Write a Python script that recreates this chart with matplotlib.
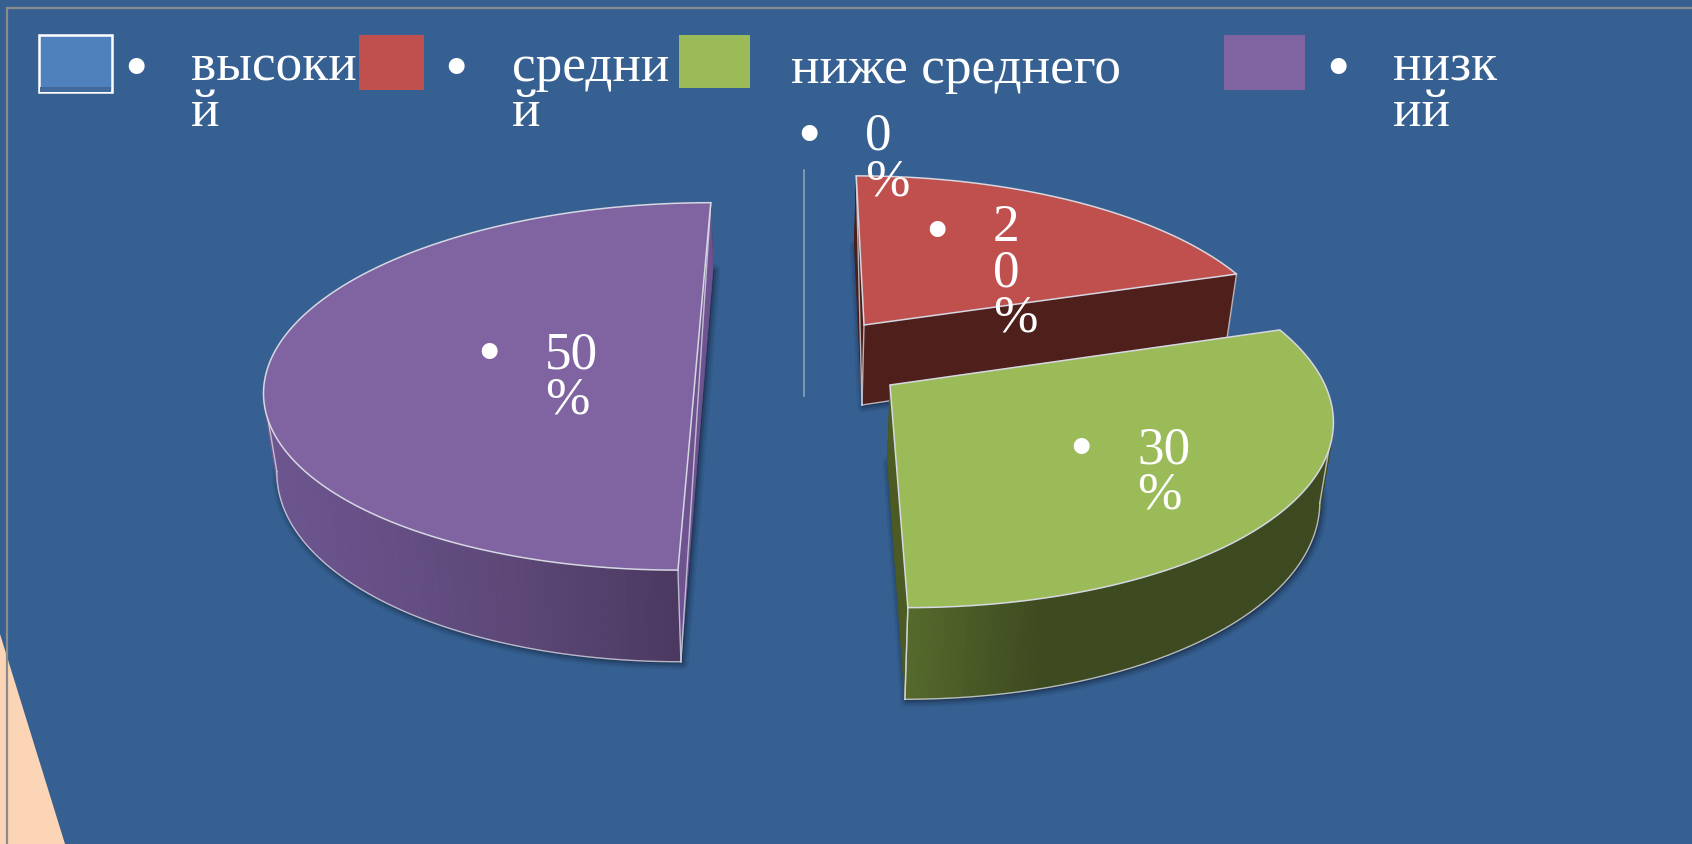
import numpy as np
import matplotlib
matplotlib.use("Agg")
import matplotlib.pyplot as plt
from matplotlib.patches import Polygon, Rectangle

categories = ["высокий", "средний", "ниже среднего", "низкий"]
values = [0, 20, 30, 50]
legend_labels = ["высоки\nй", "средни\nй", "ниже среднего", "низк\nий"]
value_labels = ["0\n%", "2\n0\n%", "30\n%", "50\n%"]

plt.rcParams["font.family"] = ["Liberation Serif", "DejaVu Serif"]

BG = "#366092"
TOPS = ["#4F81BD", "#C0504D", "#9BBB59", "#8064A2"]
EDGE = "#D5D8E2"
K = 0.16
FS = 38.3

# one projection per exploded slice: apex, radii, skew, wall depth, wall shift
GEOM = [
    None,
    dict(cx=864, cy=326, a=414, b=173, s=-9, d=80, shift=-2),
    dict(cx=890, cy=386, a=435, b=187, s=-15, d=77, shift=-2.5),
    dict(cx=697, cy=358, a=425, b=179, s=16, d=77, shift=2.5),
]
WALLS = [
    None,
    dict(start="#4A1D1A", end="#4F1F1C", stops=[0, 1], cols=["#4F1F1C", "#4F1F1C"], outer=False),
    dict(start="#3E4A20", end="#4C5A24", stops=[0, .32, 1], cols=["#566A2C", "#3E4A20", "#3E4A20"], outer=True),
    dict(start="#6F5390", end="#6F5390", stops=[0, .55, 1], cols=["#6E5690", "#5D4878", "#48365C"], outer=True),
]
FRONT_WALL = [None, "#4F1F1C", None, "#4C3A62"]


def project(g, theta, lower=False):
    u, v = np.cos(theta), np.sin(theta)
    f = 1 / (1 + K * v)
    X = (g["a"] * u + g["s"] * v) * f
    Y = -g["b"] * v * f
    if lower:
        return g["cx"] + g["shift"] + 0.975 * X, g["cy"] + Y + g["d"] * f
    return g["cx"] + X, g["cy"] + Y


def apex(g, lower=False):
    if lower:
        return g["cx"] + g["shift"], g["cy"] + g["d"]
    return g["cx"], g["cy"]


fig = plt.figure(figsize=(16.92, 8.45), dpi=100, facecolor=BG)
ax = fig.add_axes([0, 0, 1, 1])
ax.set_xlim(0, 1692)
ax.set_ylim(845, 0)
ax.axis("off")

# slide decoration
ax.add_patch(Polygon([(0, 635), (65, 845), (0, 845)], fc="#FBD5B5", ec="none", zorder=0))
ax.plot([7, 7, 1692], [845, 9, 9], color="#8C8C8C", lw=1.6, zorder=1, solid_joinstyle="miter")

# slices
cum = np.cumsum([0] + values)
order = [3, 1, 2]
z = 2
for i in order:
    g, w = GEOM[i], WALLS[i]
    t0 = np.radians(90 - 3.6 * cum[i])
    t1 = np.radians(90 - 3.6 * cum[i + 1])
    th = np.linspace(t0, t1, 181)
    tx, ty = project(g, th)
    bx, by = project(g, th, lower=True)
    ax0, ay0 = apex(g)
    ax1, ay1 = apex(g, lower=True)

    # soft shadow of the lower face
    pts = np.column_stack([np.r_[ax1, bx] + 1.5, np.r_[ay1, by] + 1.5])
    for lw, al in [(9, .10), (6, .16), (3, .25)]:
        ax.add_patch(Polygon(pts, closed=True, fc="#16263F", ec="#16263F", lw=lw, alpha=al,
                             joinstyle="round", zorder=z))
    z += 1

    # outer wall, shaded left to right
    xmin, xmax = bx.min(), bx.max()
    for j in range(len(th) - 1):
        frac = (0.5 * (bx[j] + bx[j + 1]) - xmin) / (xmax - xmin)
        col = [np.interp(frac, w["stops"], [matplotlib.colors.to_rgb(c)[n] for c in w["cols"]]) for n in range(3)]
        ax.add_patch(Polygon([(tx[j], ty[j]), (tx[j + 1], ty[j + 1]), (bx[j + 1], by[j + 1]), (bx[j], by[j])],
                             fc=col, ec=col, lw=0.6, zorder=z))
    z += 1

    # radial walls
    for k, col in ((0, w["start"]), (-1, w["end"])):
        ax.add_patch(Polygon([(ax0, ay0), (tx[k], ty[k]), (bx[k], by[k]), (ax1, ay1)],
                             fc=col, ec=col, lw=0.5, zorder=z))
    z += 1

    # visible wall edges only
    e = dict(color=EDGE, lw=1.0, alpha=.8, zorder=z)
    if w["outer"]:
        # lower rim from the front corner round to the side extreme, then the tangent
        ext = np.argmin(bx) if i == 3 else np.argmax(bx)
        text = np.argmin(tx) if i == 3 else np.argmax(tx)
        fr = np.argmin(np.abs(th - np.radians(-90)))
        lo, hi = sorted((ext, fr))
        ax.plot(bx[lo:hi + 1], by[lo:hi + 1], **e)
        ax.plot([tx[text], bx[ext]], [ty[text], by[ext]], **e)
        ax.plot([tx[fr], bx[fr]], [ty[fr], by[fr]], **e)
    if i == 1:
        ax.plot([ax1, bx[-1]], [ay1, by[-1]], **e)
        ax.plot([tx[-1], bx[-1]], [ty[-1], by[-1]], **e)
        ax.plot([tx[0], ax1], [ty[0], ay1], **e)
        ax.plot([ax0, ax1], [ay0, ay1], **e)
    if i == 2:
        ax.plot([tx[-1], bx[-1]], [ty[-1], by[-1]], **e)
    if i == 3:
        ax.plot([tx[-1], bx[0]], [ty[-1], by[0]], **e)
    z += 1

    # top face
    ax.add_patch(Polygon(np.column_stack([np.r_[ax0, tx], np.r_[ay0, ty]]), closed=True,
                         fc=TOPS[i], ec=EDGE, lw=1.1, joinstyle="miter", zorder=z))
    z += 1

# leader line of the 0 % slice
ax.plot([803.5, 803.5], [171, 397], color="#93A6BF", lw=1.1, zorder=z)
z += 1

# legend swatches
ax.add_patch(Rectangle((39, 36), 73, 57, fc=TOPS[0], ec="white", lw=1.8, zorder=z))
ax.add_patch(Rectangle((40, 88), 71, 4.5, fc="#41699C", ec="none", zorder=z + 1))
ax.add_patch(Rectangle((359, 36), 65, 55, fc=TOPS[1], ec="none", zorder=z))
ax.add_patch(Rectangle((679, 36), 71, 53, fc=TOPS[2], ec="none", zorder=z))
ax.add_patch(Rectangle((1224, 36), 81, 55, fc=TOPS[3], ec="none", zorder=z))
z += 2


def put(x, y, s):
    ax.text(x, y, s, color="white", fontsize=FS, ha="left", va="baseline",
            multialignment="left", linespacing=0.93, zorder=z)


def bullet(x, y):
    ax.text(x, y + 23, "•", color="white", fontsize=48, ha="center", va="baseline", zorder=z)


for (x, y), s in zip([(191, 126), (512, 126), (791, 83), (1393, 126)], legend_labels):
    put(x, y, s)
for x, y in [(136, 65), (456, 65), (1338, 65)]:
    bullet(x, y)

for (x, y), s in zip([(865, 195), (993, 332), (1137, 509), (545, 414)], value_labels):
    put(x, y, s)
for x, y in [(809, 132), (937, 228), (1081, 445), (489, 350)]:
    bullet(x, y)

fig.savefig("out.png", dpi=100, facecolor=BG)
